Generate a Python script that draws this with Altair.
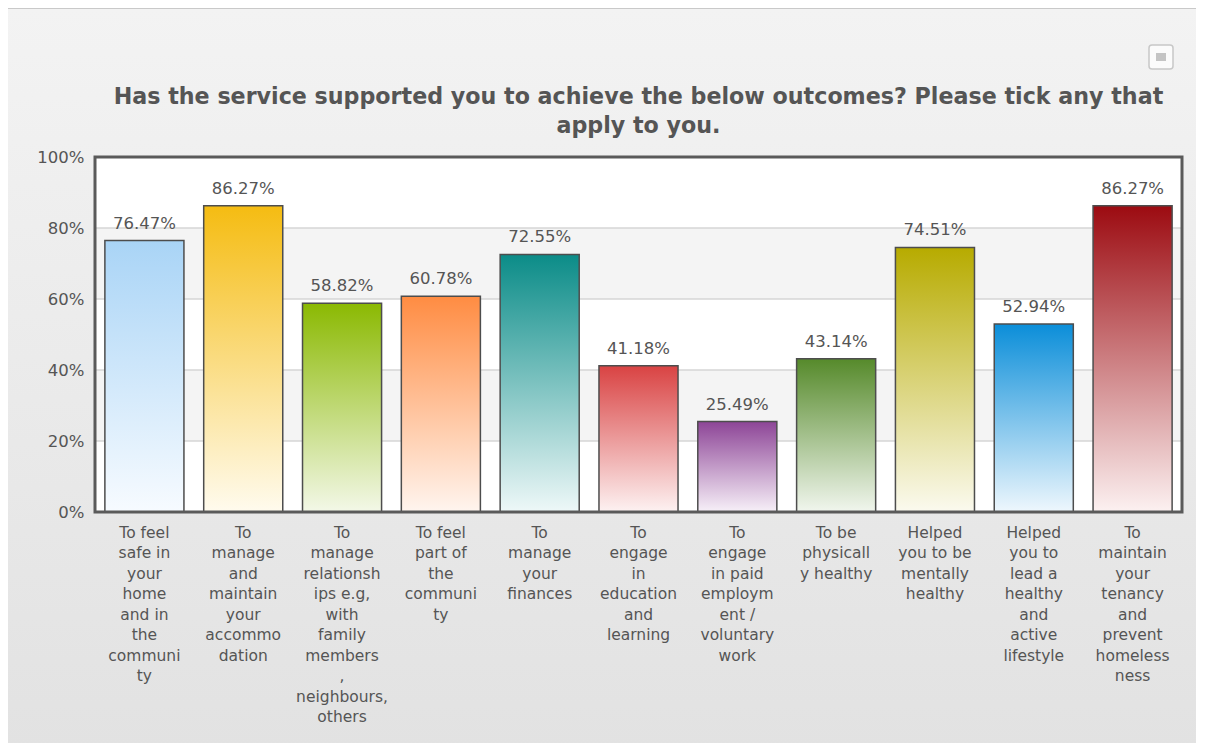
import altair as alt
import pandas as pd

# ---- data ----
categories = [
    "To feel|safe in|your|home|and in|the|communi|ty",
    "To|manage|and|maintain|your|accommo|dation",
    "To|manage|relationsh|ips e.g,|with|family|members|,|neighbours,|others",
    "To feel|part of|the|communi|ty",
    "To|manage|your|finances",
    "To|engage|in|education|and|learning",
    "To|engage|in paid|employm|ent /|voluntary|work",
    "To be|physicall|y healthy",
    "Helped|you to be|mentally|healthy",
    "Helped|you to|lead a|healthy|and|active|lifestyle",
    "To|maintain|your|tenancy|and|prevent|homeless|ness",
]
values = [76.47, 86.27, 58.82, 60.78, 72.55, 41.18, 25.49, 43.14, 74.51, 52.94, 86.27]
bar_colors = ["#a9d4f6", "#f5bc12", "#8bb902", "#ff8c42", "#0b8c88", "#d94343",
              "#8d4597", "#568a2b", "#b7ab00", "#0b8ed9", "#9c0b11"]
bar_bottoms = ["#f7fbff", "#fffbee", "#f3f8e8", "#fff5ef", "#eef8f8", "#fdf2f2",
               "#f7f0f8", "#f1f6ee", "#fbfaef", "#eef7fd", "#fcf1f1"]
y_ticks = [0, 20, 40, 60, 80, 100]
band_lo = [0, 20, 40, 60, 80]
band_hi = [20, 40, 60, 80, 100]
band_shade = ["w", "g", "w", "g", "w"]
grid_at = [20, 40, 60, 80]
title_lines = ["Has the service supported you to achieve the below outcomes? Please tick any that",
               "apply to you."]

W, H = 1087, 355
PAD = {"left": 87, "top": 149, "right": 14, "bottom": 231}
FONT = "DejaVu Sans"
TXT = "#555555"

df = pd.DataFrame({"cat": categories, "v": values})
df["label"] = [f"{v:.2f}%" for v in values]
bands = pd.DataFrame({"lo": band_lo, "hi": band_hi, "shade": band_shade})
grid = pd.DataFrame({"g": grid_at})

x_enc = alt.X("cat:N", sort=categories, title=None,
              scale=alt.Scale(paddingInner=0.2, paddingOuter=0.1),
              axis=alt.Axis(labelExpr="split(datum.label, '|')", labelAngle=0,
                            labelBaseline="top", labelAlign="center",
                            labelFontSize=15.5, labelLineHeight=20.5, labelColor=TXT,
                            labelFont=FONT, labelPadding=13, labelOverlap=False,
                            labelLimit=0, ticks=False, domain=False, grid=False, zindex=1))
y_scale = alt.Scale(domain=[0, 100], nice=False)
y_axis = alt.Axis(values=y_ticks, labelExpr="datum.value + '%'", labelFontSize=16.5,
                  labelColor=TXT, labelFont=FONT, labelPadding=11, ticks=False,
                  domain=False, grid=False, zindex=1)

one = alt.Data(values=[{}])

# outer background with a soft vertical gradient
bg = alt.Chart(one).mark_rect(
    color=alt.Gradient(gradient="linear", x1=0, x2=0, y1=0, y2=1,
                       stops=[alt.GradientStop(color="#f3f3f3", offset=0),
                              alt.GradientStop(color="#e2e2e2", offset=1)]),
    stroke="#c9c9c9", strokeWidth=1, clip=False
).encode(x=alt.value(-PAD["left"] - 1), x2=alt.value(W + PAD["right"] + 5),
         y=alt.value(-PAD["top"] + 0.5), y2=alt.value(H + PAD["bottom"] + 5))

# small menu icon at top right
icon = alt.Chart(one).mark_rect(fill="#fbfbfb", stroke="#c8c8c8", strokeWidth=1.5,
                                cornerRadius=3, clip=False).encode(
    x=alt.value(1054), x2=alt.value(1078), y=alt.value(-112), y2=alt.value(-88))
icon_in = alt.Chart(one).mark_rect(fill="#c4c4c4", clip=False).encode(
    x=alt.value(1061), x2=alt.value(1071), y=alt.value(-104), y2=alt.value(-96))

band_layer = alt.Chart(bands).mark_rect().encode(
    y=alt.Y("lo:Q", scale=y_scale, axis=y_axis, title=None),
    y2="hi:Q",
    color=alt.Color("shade:N", scale=alt.Scale(domain=["w", "g"], range=["#ffffff", "#f4f4f4"]),
                    legend=None),
)

grid_layer = alt.Chart(grid).mark_rule(color="#d6d6d6", strokeWidth=1.5).encode(
    y=alt.Y("g:Q", scale=y_scale, axis=y_axis, title=None))

bar_layers = []
for c, top, bot in zip(categories, bar_colors, bar_bottoms):
    bar_layers.append(
        alt.Chart(df).transform_filter(alt.datum.cat == c).mark_bar(
            color=alt.Gradient(gradient="linear", x1=0, x2=0, y1=0, y2=1,
                               stops=[alt.GradientStop(color=top, offset=0),
                                      alt.GradientStop(color=bot, offset=1)]),
            stroke="#4d4d4d", strokeWidth=1.5
        ).encode(x=x_enc, y=alt.Y("v:Q", scale=y_scale, axis=y_axis, title=None))
    )

text_layer = alt.Chart(df).mark_text(baseline="alphabetic", dy=-12, fontSize=16.5,
                                     font=FONT, color=TXT).encode(
    x=x_enc, y=alt.Y("v:Q", scale=y_scale, axis=y_axis, title=None), text="label:N")

frame = alt.Chart(one).mark_rect(filled=False, stroke="#5a5a5a", strokeWidth=3, clip=False).encode(
    x=alt.value(0), x2=alt.value(W), y=alt.value(0), y2=alt.value(H))

chart = alt.layer(bg, icon, icon_in, band_layer, grid_layer, *bar_layers, text_layer, frame).properties(
    width=W, height=H,
    title=alt.TitleParams(text=title_lines, fontSize=22.2, fontWeight="bold", font=FONT,
                          color=TXT, anchor="middle", frame="group", offset=-129,
                          lineHeight=29),
    autosize=alt.AutoSizeParams(type="none"),
    padding=PAD,
).configure_view(stroke="transparent").configure(background="#ebebeb")

chart.save("out.html", embed_options={"renderer": "svg", "actions": False})
